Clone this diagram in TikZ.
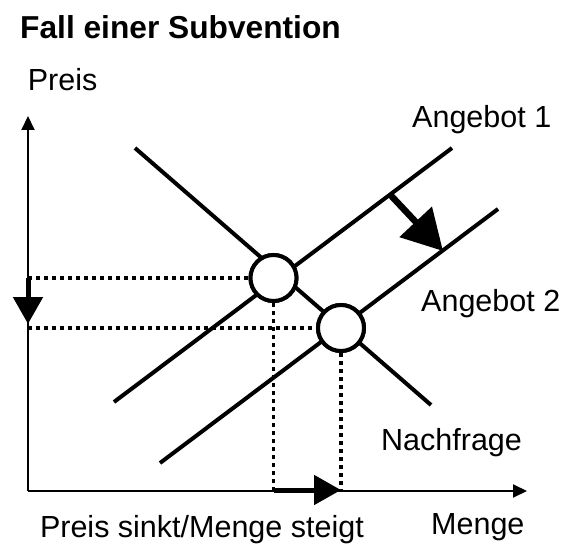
\documentclass[tikz,border=0pt]{standalone}
\usepackage{fontspec}
\setmainfont{Liberation Sans}
\usetikzlibrary{arrows.meta}
\begin{document}
\begin{tikzpicture}[x=1pt,y=-1pt,
  curve/.style={line width=4pt},
  axis/.style={line width=2pt,-{Triangle[length=14pt,width=13pt]}},
  guide/.style={line width=3.5pt,dash pattern=on 4pt off 4pt},
  eq/.style={circle,draw,line width=4pt,fill=white,minimum size=46pt,inner sep=0pt},
  move/.style={line width=5pt,-{Triangle[length=27pt,width=29pt]}},
  shiftarrow/.style={line width=6.5pt,-{Triangle[length=40pt,width=43pt]}},
  lbl/.style={inner sep=0pt,anchor=base west,font=\fontsize{30.5}{36}\selectfont},
]
\useasboundingbox (0,0) rectangle (580,545);

% axes
\coordinate (O) at (28,491);
\coordinate (ytop) at (28,116);
\coordinate (xend) at (527,491);
\draw[axis] (O) -- (ytop);
\draw[axis] (O) -- (xend);

% demand and the two supply curves
\coordinate (D1) at (135,148);
\coordinate (D2) at (431,405);
\coordinate (S1a) at (114,402);
\coordinate (S1b) at (452,148);
\coordinate (S2a) at (160,463);
\coordinate (S2b) at (498,209);
\draw[curve] (D1) -- (D2);
\draw[curve] (S1a) -- (S1b);
\draw[curve] (S2a) -- (S2b);

% equilibrium markers
\node[eq] (E1) at (273.5,278) {};
\node[eq] (E2) at (341,328) {};

% guide lines to the axes
\coordinate (P1) at (O |- E1);
\coordinate (P2) at (O |- E2);
\coordinate (Q1) at (E1 |- O);
\coordinate (Q2) at (E2 |- O);
\draw[guide] (P1) -- (E1.west);
\draw[guide] (P2) -- (E2.west);
\draw[guide] (E1.south) -- (Q1);
\draw[guide] (E2.south) -- (Q2);
\node[eq] at (E1) {};
\node[eq] at (E2) {};

% price falls, quantity rises
\draw[move,shorten >=4pt] (P1) -- (P2);
\draw[move] ([yshift=1pt]Q1) -- ([yshift=1pt]Q2);

% supply shift
\coordinate (A1) at (390,194.5);
\coordinate (A2) at (443,251);
\draw[shiftarrow] (A1) -- (A2);

% labels
\node[inner sep=0pt,anchor=base west,font=\fontsize{31.7}{38}\selectfont\bfseries] (title) at (20,39) {Fall einer Subvention};
\node[lbl] (preis) at (27.6,91) {Preis};
\node[lbl] (ang1) at (412,128) {Angebot 1};
\node[lbl] (ang2) at (421,311) {Angebot 2};
\node[lbl] (nachfrage) at (381,450) {Nachfrage};
\node[lbl] (menge) at (431,534) {Menge};
\node[lbl,anchor=base east] (effekt) at (364,537) {Preis sinkt/Menge steigt};
\end{tikzpicture}
\end{document}
